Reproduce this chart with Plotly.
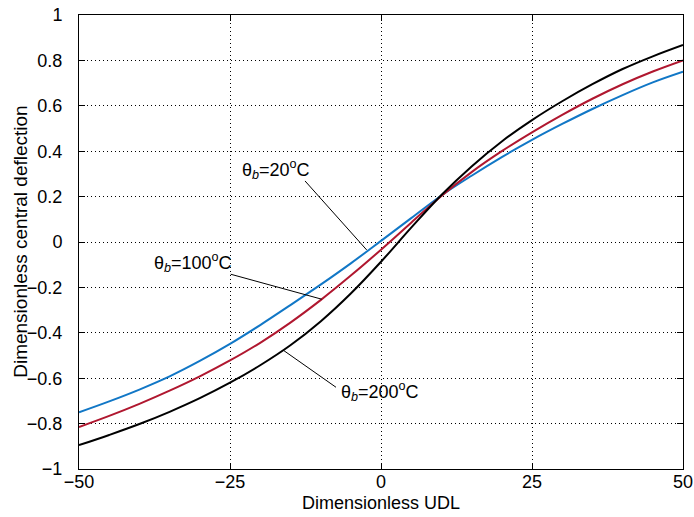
import plotly.graph_objects as go

# Dimensionless UDL (x) and central deflection for three base temperatures
udl = [-50, -45, -40, -35, -30, -25, -20, -15, -10, -5, 0,
       5, 10, 15, 20, 25, 30, 35, 40, 45, 50]
defl_20 = [-0.75, -0.702, -0.65, -0.592, -0.524, -0.449, -0.366, -0.278, -0.188, -0.094, 0.005,
           0.105, 0.205, 0.292, 0.374, 0.45, 0.52, 0.586, 0.647, 0.703, 0.75]
defl_100 = [-0.815, -0.766, -0.713, -0.655, -0.592, -0.522, -0.444, -0.355, -0.256, -0.148, -0.034,
            0.085, 0.203, 0.308, 0.40, 0.483, 0.56, 0.631, 0.695, 0.751, 0.80]
defl_200 = [-0.895, -0.85, -0.802, -0.748, -0.688, -0.62, -0.543, -0.455, -0.35, -0.227, -0.087,
            0.063, 0.207, 0.333, 0.443, 0.537, 0.62, 0.695, 0.762, 0.818, 0.868]

x_ticks = [-50, -25, 0, 25, 50]
x_tick_text = ["\u221250", "\u221225", "0", "25", "50"]
y_ticks = [-1, -0.8, -0.6, -0.4, -0.2, 0, 0.2, 0.4, 0.6, 0.8, 1]
y_tick_text = ["\u22121", "\u22120.8", "\u22120.6", "\u22120.4", "\u22120.2", "0",
               "0.2", "0.4", "0.6", "0.8", "1"]

FONT = "Liberation Sans, Arial, Helvetica, sans-serif"

fig = go.Figure()
for ys, color in [(defl_20, "#1177c6"), (defl_100, "#b0172f"), (defl_200, "#000000")]:
    fig.add_trace(go.Scatter(x=udl, y=ys, mode="lines",
                             line=dict(color=color, width=2, shape="spline"),
                             showlegend=False, hoverinfo="skip"))

# Curve labels (text, centre x, centre y) and their leader lines (label end -> curve)
labels = [
    ("\u03b8<sub><i>b</i></sub>=20<sup>o</sup>C", -17.4, 0.32),
    ("\u03b8<sub><i>b</i></sub>=100<sup>o</sup>C", -31.2, -0.09),
    ("\u03b8<sub><i>b</i></sub>=200<sup>o</sup>C", -0.1, -0.66),
]
for text, tx, ty in labels:
    fig.add_annotation(x=tx, y=ty, text=text, showarrow=False, xref="x", yref="y",
                       font=dict(family=FONT, size=18, color="black"))

leaders = [
    (-12.58, 0.269, -2.37, -0.035),
    (-24.88, -0.142, -9.82, -0.252),
    (-7.45, -0.64, -16.06, -0.479),
]
for x0, y0, x1, y1 in leaders:
    fig.add_shape(type="line", x0=x0, y0=y0, x1=x1, y1=y1, xref="x", yref="y",
                  line=dict(color="black", width=1))

# Axis titles
fig.add_annotation(text="Dimensionless UDL", xref="paper", yref="paper",
                   x=0.5, y=-0.075, xanchor="center", yanchor="middle",
                   showarrow=False, font=dict(family=FONT, size=18, color="black"))
fig.add_annotation(text="Dimensionless central deflection", xref="paper", yref="paper",
                   x=-0.098, y=0.5, xanchor="center", yanchor="middle", textangle=-90,
                   showarrow=False, font=dict(family=FONT, size=19, color="black"))

axis_common = dict(
    showline=True, linecolor="black", linewidth=1, mirror="ticks",
    ticks="inside", ticklen=6, tickcolor="black",
    showgrid=True, gridcolor="#000000", gridwidth=1, griddash="1px,3px",
    zeroline=False, automargin=False,
    tickfont=dict(family=FONT, size=18, color="black"),
)

fig.update_xaxes(range=[-50, 50], tickvals=x_ticks, ticktext=x_tick_text,
                 ticklabelstandoff=-4, **axis_common)
fig.update_yaxes(range=[-1, 1], tickvals=y_ticks, ticktext=y_tick_text,
                 ticklabelstandoff=12, **axis_common)

fig.update_layout(
    width=694, height=517,
    margin=dict(l=79, r=11, t=15, b=48),
    plot_bgcolor="white", paper_bgcolor="white",
    font=dict(family=FONT, color="black"),
)

fig.write_html("out.html")
